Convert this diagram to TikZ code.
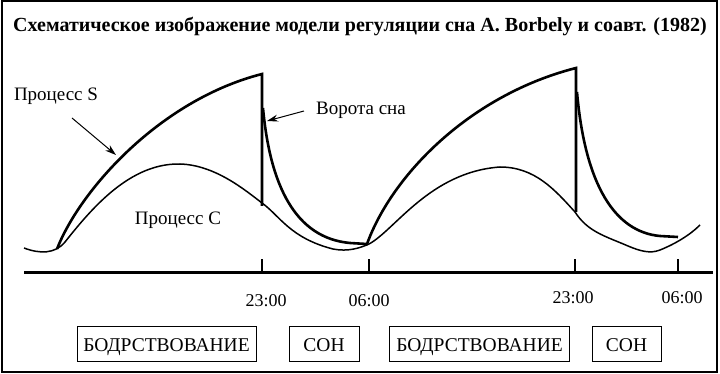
\documentclass[tikz,border=0pt]{standalone}
\usepackage{fontspec}
\setmainfont{Liberation Serif}
\usetikzlibrary{arrows.meta}

\tikzset{
  frame/.style={line width=1.2pt},
  procS/.style={line width=2.6pt},
  procC/.style={line width=1.5pt},
  axisline/.style={line width=3pt},
  ticker/.style={line width=2.6pt},
  pointer/.style={line width=1pt, -{Stealth[length=11pt,width=7pt]}},
  lbl/.style={font=\fontsize{19}{22}\selectfont, inner sep=0pt},
  timelbl/.style={font=\fontsize{18}{21}\selectfont, inner sep=0pt},
  phasebox/.style={draw, line width=0.9pt, minimum height=35pt, inner sep=0pt,
    text height=15pt, text depth=0pt, font=\fontsize{19.5}{22}\selectfont}
}

\begin{document}
\begin{tikzpicture}[x=1pt, y=-1pt]
      \useasboundingbox (0,0) rectangle (720,374);
      \draw[frame] (2,1) rectangle (717,372);
      \node[font=\bfseries\fontsize{20}{24}\selectfont] (title) at (360,27)
        {Схематическое изображение модели регуляции сна A. Borbely и соавт. (1982)};
      % time axis
      \draw[axisline] (24,272) -- (713,272);
      \foreach \tx/\nm in {262/a, 369/b, 575/c, 678/d}
        \draw[ticker] (\tx,259) -- (\tx,272) coordinate (tick\nm);
      % process S
      \draw[procS] (57,249) .. controls (80,190) and (160,100) .. (262,74) -- (262,206);
      \draw[procS] (263,108) .. controls (270,185) and (295,238) .. (350,243) -- (367,244)
        .. controls (392,175) and (470,95) .. (576,68) -- (576,212);
      \draw[procS] (577,92) .. controls (585,185) and (615,232) .. (660,236) -- (678,237);
      % process C
      \draw[procC] (24,248) .. controls (40,254) and (55,254) .. (65,242)
        .. controls (92,208) and (130,163) .. (180,164)
        .. controls (215,165) and (245,190) .. (262,203)
        .. controls (280,216) and (290,238) .. (333,249)
        .. controls (348,252) and (360,248) .. (369,244)
        .. controls (395,230) and (430,172) .. (500,167)
        .. controls (535,167) and (555,190) .. (575,212)
        .. controls (588,232) and (605,236) .. (628,246)
        .. controls (640,251) and (650,254) .. (660,250)
        .. controls (675,244) and (690,235) .. (700,225);
      % labels
      \node[lbl] (procs) at (56,96) {Процесс S};
      \coordinate (sarrow) at (116,155);
      \draw[pointer] (72,118) -- (sarrow);
      \node[lbl] (gate) at (361,110) {Ворота сна};
      \coordinate (garrow) at (267,121);
      \draw[pointer] (gate.west) ++(-12,1) -- (garrow);
      \node[lbl] (procc) at (178,220) {Процесс C};
      % clock times
      \node[timelbl] (t1) at (266,301) {23:00};
      \node[timelbl] (t2) at (369,301) {06:00};
      \node[timelbl] (t3) at (573,298) {23:00};
      \node[timelbl] (t4) at (682,298) {06:00};
      % phases
      \node[phasebox, minimum width=179pt] (wake1) at (166.5,343.5) {БОДРСТВОВАНИЕ};
      \node[phasebox, minimum width=70pt] (sleep1) at (324,343.5) {СОН};
      \node[phasebox, minimum width=180pt] (wake2) at (479.5,343.5) {БОДРСТВОВАНИЕ};
      \node[phasebox, minimum width=69pt] (sleep2) at (626.5,343.5) {СОН};
    \end{tikzpicture}
\end{document}
